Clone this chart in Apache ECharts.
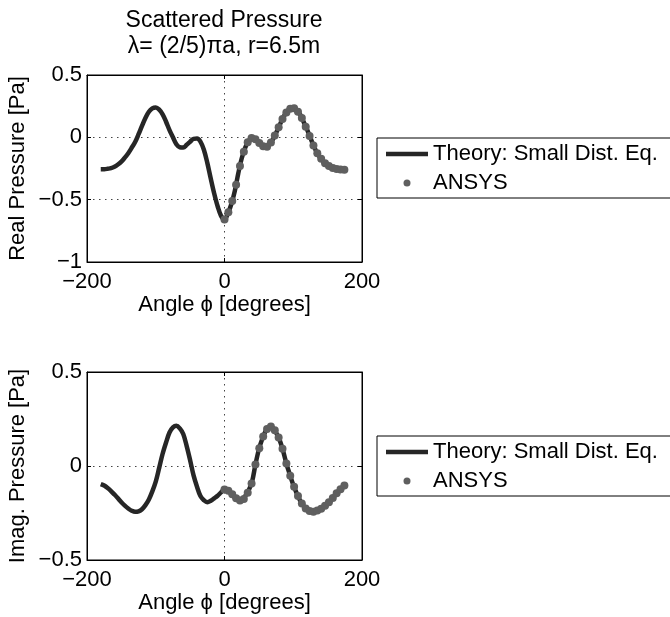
<!DOCTYPE html>
<html>
<head>
<meta charset="utf-8">
<script src="https://cdn.jsdelivr.net/npm/echarts@6/dist/echarts.min.js"></script>
<style>html,body{margin:0;padding:0;background:#fff;}#c{width:670px;height:617px;}</style>
</head>
<body>
<div id="c"></div>
<script>
// ---- data ----
const theoryAngles = [-180,-175,-170,-165,-160,-155,-150,-145,-140,-135,-130,-125,-120,-115,-110,-105,-100,-95,-90,-85,-80,-75,-70,-65,-60,-55,-50,-45,-40,-35,-30,-25,-20,-15,-10,-5,
  0,5,10,15,20,25,30,35,40,45,50,55,60,65,70,75,80,85,90,95,100,105,110,115,120,125,130,135,140,145,150,155,160,165,170,175];
const realTheory = [-0.257,-0.256,-0.252,-0.247,-0.236,-0.218,-0.195,-0.163,-0.127,-0.084,-0.038,0.025,0.092,0.155,0.205,0.232,0.24,0.222,0.185,0.125,0.058,0.0,-0.056,-0.08,-0.082,-0.06,-0.035,-0.012,-0.01,-0.035,-0.10,-0.205,-0.33,-0.45,-0.553,-0.63,
  -0.66,-0.61,-0.535,-0.43,-0.29,-0.17,-0.085,-0.03,-0.005,-0.015,-0.04,-0.068,-0.078,-0.062,-0.02,0.035,0.095,0.155,0.2,0.228,0.235,0.218,0.183,0.125,0.063,-0.005,-0.072,-0.128,-0.168,-0.2,-0.225,-0.24,-0.25,-0.256,-0.259,-0.26];
const imagTheory = [-0.096,-0.104,-0.117,-0.133,-0.152,-0.172,-0.193,-0.211,-0.226,-0.238,-0.244,-0.241,-0.23,-0.208,-0.178,-0.135,-0.083,-0.01,0.065,0.125,0.178,0.205,0.214,0.2,0.17,0.106,0.031,-0.05,-0.11,-0.16,-0.182,-0.193,-0.185,-0.172,-0.158,-0.14,
  -0.125,-0.13,-0.145,-0.165,-0.18,-0.185,-0.16,-0.13,-0.085,0.008,0.088,0.145,0.187,0.209,0.203,0.178,0.14,0.083,0.013,-0.045,-0.1,-0.145,-0.184,-0.212,-0.23,-0.24,-0.244,-0.238,-0.228,-0.215,-0.2,-0.18,-0.16,-0.137,-0.12,-0.102];
const ansysAngles = [0,5.625,11.25,16.875,22.5,28.125,33.75,39.375,45,50.625,56.25,61.875,67.5,73.125,78.75,84.375,90,95.625,101.25,106.875,112.5,118.125,123.75,129.375,135,140.625,146.25,151.875,157.5,163.125,168.75,174.375];
const realAnsys = [-0.66,-0.60,-0.51,-0.38,-0.23,-0.115,-0.04,-0.006,-0.015,-0.045,-0.072,-0.075,-0.042,0.015,0.08,0.148,0.2,0.23,0.233,0.205,0.155,0.085,0.01,-0.065,-0.128,-0.172,-0.207,-0.23,-0.245,-0.254,-0.258,-0.26];
const imagAnsys = [-0.125,-0.132,-0.15,-0.172,-0.184,-0.175,-0.142,-0.093,0.008,0.095,0.157,0.197,0.21,0.19,0.152,0.092,0.013,-0.052,-0.11,-0.16,-0.2,-0.226,-0.24,-0.244,-0.237,-0.227,-0.212,-0.193,-0.17,-0.145,-0.124,-0.104];
const xTicks = {min:-200, max:200, interval:200};
const realTicks = {min:-1, max:0.5, interval:0.5};
const imagTicks = {min:-0.5, max:0.5, interval:0.5};
const titleLines = ['Scattered Pressure', 'λ= (2/5)πa, r=6.5m'];
const legendNames = ['Theory: Small Dist. Eq.', 'ANSYS'];

// ---- chart ----
const FONT = '"Liberation Sans", Arial, Helvetica, sans-serif';
const pair = (xs, ys) => xs.map((x, i) => [x, ys[i]]);
const fmt = v => (v < 0 ? '\u2212' + String(Math.abs(v)) : String(v));
const dotted = {color: '#444', width: 1, type: [1.5, 4.5]};

function mainX(gi) {
  return {
    type: 'value', gridIndex: gi, min: xTicks.min, max: xTicks.max, interval: xTicks.interval,
    position: 'bottom',
    name: 'Angle \u03D5 [degrees]', nameLocation: 'middle', nameGap: 29,
    nameTextStyle: {fontSize: 22, color: '#000', fontFamily: FONT},
    axisLine: {show: true, onZero: false, lineStyle: {color: '#000', width: 1}},
    axisTick: {show: true, inside: true, length: 4, lineStyle: {color: '#000'}},
    axisLabel: {fontSize: 22, color: '#000', fontFamily: FONT, margin: 9, formatter: fmt},
    splitLine: {show: true, lineStyle: dotted}
  };
}
function mainY(gi, t, name) {
  return {
    type: 'value', gridIndex: gi, min: t.min, max: t.max, interval: t.interval,
    position: 'left',
    name: name, nameLocation: 'middle', nameGap: 58,
    nameTextStyle: {fontSize: 22, color: '#000', fontFamily: FONT},
    axisLine: {show: true, onZero: false, lineStyle: {color: '#000', width: 1}},
    axisTick: {show: true, inside: true, length: 4, lineStyle: {color: '#000'}},
    axisLabel: {fontSize: 22, color: '#000', fontFamily: FONT, margin: 5, formatter: fmt},
    splitLine: {show: true, lineStyle: dotted}
  };
}
function sideX(gi) {
  return {type: 'value', gridIndex: gi, min: xTicks.min, max: xTicks.max, interval: xTicks.interval, position: 'top',
    axisLine: {show: true, onZero: false, lineStyle: {color: '#000'}},
    axisTick: {show: true, inside: true, length: 4, lineStyle: {color: '#000'}},
    axisLabel: {show: false}, splitLine: {show: false}};
}
function sideY(gi, t) {
  return {type: 'value', gridIndex: gi, min: t.min, max: t.max, interval: t.interval, position: 'right',
    axisLine: {show: true, onZero: false, lineStyle: {color: '#000'}},
    axisTick: {show: true, inside: true, length: 4, lineStyle: {color: '#000'}},
    axisLabel: {show: false}, splitLine: {show: false}};
}
function legendAt(top) {
  return {
    orient: 'vertical', left: 377, top: top,
    data: [
      {name: legendNames[0], icon: 'path://M0,0L42,0L42,4.5L0,4.5Z', itemStyle: {color: '#262626'}},
      {name: legendNames[1], icon: 'circle', itemStyle: {color: '#5f5f5f'}}
    ],
    itemWidth: 42, itemHeight: 7, itemGap: 7, symbolKeepAspect: true,
    padding: [5, 30, 4, 9],
    borderColor: '#000', borderWidth: 1, backgroundColor: '#fff',
    textStyle: {fontSize: 22, color: '#000', fontFamily: FONT},
    selectedMode: false
  };
}
const lineSeries = (xi, yi, data) => ({
  name: legendNames[0], type: 'line', xAxisIndex: xi, yAxisIndex: yi, data: data,
  smooth: 0.35, symbol: 'none', lineStyle: {color: '#262626', width: 4.5}, itemStyle: {color: '#262626'},
  animation: false, z: 2
});
const dotSeries = (xi, yi, data) => ({
  name: legendNames[1], type: 'scatter', xAxisIndex: xi, yAxisIndex: yi, data: data,
  symbol: 'circle', symbolSize: 8, itemStyle: {color: '#5f5f5f', opacity: 1}, animation: false, z: 3
});

const chart = echarts.init(document.getElementById('c'), null, {renderer: 'canvas'});
chart.setOption({
  animation: false,
  backgroundColor: '#fff',
  textStyle: {fontFamily: FONT},
  title: {
    text: titleLines.join('\n'), left: 224, top: 8, textAlign: 'center', padding: 0,
    textStyle: {fontSize: 23, fontWeight: 'normal', color: '#000', lineHeight: 26, fontFamily: FONT}
  },
  legend: [legendAt(138), legendAt(436)],
  grid: [
    {left: 87, top: 75, width: 275, height: 187, show: true, borderColor: '#000', borderWidth: 1, containLabel: false},
    {left: 87, top: 372, width: 275, height: 188, show: true, borderColor: '#000', borderWidth: 1, containLabel: false}
  ],
  xAxis: [mainX(0), mainX(1), sideX(0), sideX(1)],
  yAxis: [mainY(0, realTicks, 'Real Pressure [Pa]'), mainY(1, imagTicks, 'Imag. Pressure [Pa]'), sideY(0, realTicks), sideY(1, imagTicks)],
  series: [
    lineSeries(0, 0, pair(theoryAngles, realTheory)),
    dotSeries(0, 0, pair(ansysAngles, realAnsys)),
    lineSeries(1, 1, pair(theoryAngles, imagTheory)),
    dotSeries(1, 1, pair(ansysAngles, imagAnsys))
  ]
});
</script>
</body>
</html>
